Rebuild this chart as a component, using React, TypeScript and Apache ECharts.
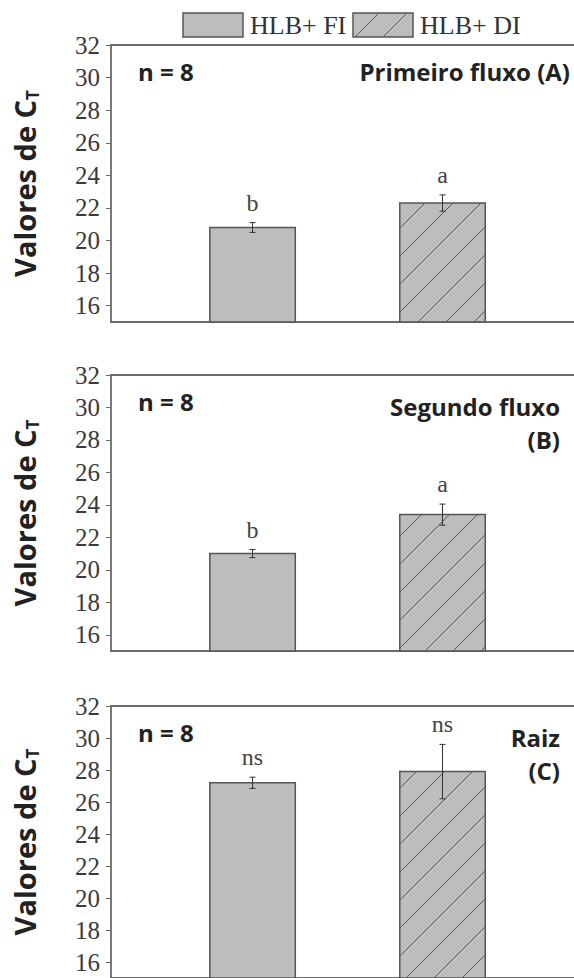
import React, { useEffect, useRef } from "react";
import * as echarts from "echarts";

// ---- data ----
const seriesNames = ["HLB+ FI", "HLB+ DI"];
const xPositions = [1, 2];
const yTicks = [16, 18, 20, 22, 24, 26, 28, 30, 32];
const yMin = 15;
const yMax = 32;
const xMin = 0.255;
const xMax = 2.692;

const meansA = [20.8, 22.3];
const errsA = [0.3, 0.5];
const lettersA = ["b", "a"];

const meansB = [21.0, 23.4];
const errsB = [0.25, 0.65];
const lettersB = ["b", "a"];

const meansC = [27.2, 27.9];
const errsC = [0.35, 1.7];
const lettersC = ["ns", "ns"];

const nLabel = "n = 8";
const titlesA = ["Primeiro fluxo (A)"];
const titlesB = ["Segundo fluxo", "(B)"];
const titlesC = ["Raiz", "(C)"];
const yName = "Valores de C";
const yNameSub = "T";

// ---- styles ----
const GRIDS = [
  { top: 45, height: 277 },
  { top: 375, height: 276 },
  { top: 706, height: 276 },
];
const GRID_LEFT = 111;
const BAR_UNITS = 0.45;
const FILL = "#bdbdbd";
const EDGE = "#555555";
const HATCH = "#5a5a5a";
const HATCH_STEP = 28;
const AXIS = "#6a6a6a";
const SERIF = "'Liberation Serif', 'Times New Roman', serif";
const SANS = "'Open Sans', Lato, sans-serif";

function hatchLines(x0: number, y0: number, x1: number, y1: number, step: number, phase: number) {
  const out: any[] = [];
  const cStart = Math.ceil((x0 + y0 - phase) / step) * step + phase;
  for (let c = cStart; c <= x1 + y1; c += step) {
    const xa = Math.max(x0, c - y1);
    const xb = Math.min(x1, c - y0);
    if (xb - xa > 0.5) {
      out.push({
        type: "line",
        shape: { x1: xa, y1: c - xa, x2: xb, y2: c - xb },
        style: { stroke: HATCH, lineWidth: 1 },
        silent: true,
      });
    }
  }
  return out;
}

function makeRender(letters: string[]) {
  return (params: any, api: any) => {
    const x = api.value(0);
    const m = api.value(1);
    const e = api.value(2);
    const base = api.coord([x, yMin]);
    const top = api.coord([x, m]);
    const half = api.size([BAR_UNITS, 0])[0] / 2;
    const bx0 = base[0] - half;
    const bx1 = base[0] + half;
    const hi = api.coord([x, m + e])[1];
    const lo = api.coord([x, m - e])[1];
    const cx = base[0];
    const children: any[] = [
      {
        type: "rect",
        shape: { x: bx0, y: top[1], width: bx1 - bx0, height: base[1] - top[1] },
        style: { fill: FILL, stroke: EDGE, lineWidth: 1.5 },
      },
    ];
    if (params.dataIndex === 1) {
      children.push(...hatchLines(bx0, top[1], bx1, base[1], HATCH_STEP, 12));
    }
    children.push(
      { type: "line", shape: { x1: cx, y1: hi, x2: cx, y2: lo }, style: { stroke: "#333", lineWidth: 1 } },
      { type: "line", shape: { x1: cx - 3, y1: hi, x2: cx + 3, y2: hi }, style: { stroke: "#333", lineWidth: 1 } },
      { type: "line", shape: { x1: cx - 3, y1: lo, x2: cx + 3, y2: lo }, style: { stroke: "#333", lineWidth: 1 } },
      {
        type: "text",
        style: {
          text: letters[params.dataIndex],
          x: cx,
          y: hi - 20,
          align: "center",
          verticalAlign: "middle",
          fontFamily: SERIF,
          fontSize: 24,
          fill: "#444",
        },
      }
    );
    return { type: "group", children };
  };
}

export default function App() {
  const ref = useRef<HTMLDivElement>(null);
  useEffect(() => {
    if (!ref.current) return;
    const chart = echarts.init(ref.current, null, { renderer: "svg" });
    const panels = [
      { means: meansA, errs: errsA, letters: lettersA, titles: titlesA },
      { means: meansB, errs: errsB, letters: lettersB, titles: titlesB },
      { means: meansC, errs: errsC, letters: lettersC, titles: titlesC },
    ];

    const grid = GRIDS.map((g) => ({
      left: GRID_LEFT,
      right: 0,
      top: g.top,
      height: g.height,
      show: false,
    }));

    const xAxis: any[] = [];
    GRIDS.forEach((_, i) => {
      ["bottom", "top"].forEach((pos) => {
        xAxis.push({
          type: "value",
          gridIndex: i,
          position: pos,
          min: xMin,
          max: xMax,
          axisLine: { show: true, onZero: false, lineStyle: { color: AXIS, width: 1.8 } },
          axisTick: { show: false },
          axisLabel: { show: false },
          splitLine: { show: false },
        });
      });
    });

    const yAxis = GRIDS.map((_, i) => ({
      type: "value",
      gridIndex: i,
      min: yMin,
      max: yMax,
      splitLine: { show: false },
      axisLine: { show: true, lineStyle: { color: AXIS, width: 1.8 } },
      axisTick: { show: true, inside: false, length: 5, customValues: yTicks, lineStyle: { color: AXIS } },
      axisLabel: {
        customValues: yTicks,
        margin: 11,
        fontFamily: SERIF,
        fontSize: 25,
        color: "#3a3a3a",
      },
      name: `{a|${yName}}{b|${yNameSub}}`,
      nameLocation: "middle",
      nameRotate: 90,
      nameGap: 70,
      nameTextStyle: {
        rich: {
          a: { fontFamily: SANS, fontWeight: "bold", fontSize: 29, color: "#222", lineHeight: 34 },
          b: { fontFamily: SANS, fontWeight: "bold", fontSize: 17, color: "#222", lineHeight: 34, verticalAlign: "bottom" },
        },
      },
    }));

    const series = panels.map((p, i) => ({
      type: "custom",
      name: "panel" + i,
      xAxisIndex: i * 2,
      yAxisIndex: i,
      coordinateSystem: "cartesian2d",
      renderItem: makeRender(p.letters),
      encode: { x: 0, y: 1 },
      data: xPositions.map((x, k) => [x, p.means[k], p.errs[k]]),
      silent: true,
      clip: false,
    }));

    const graphic: any[] = [];
    // legend
    const legendBoxes = [
      { x: 183, label: seriesNames[0], hatch: false },
      { x: 353, label: seriesNames[1], hatch: true },
    ];
    legendBoxes.forEach((b) => {
      graphic.push({
        type: "rect",
        shape: { x: b.x, y: 13, width: 60, height: 24 },
        style: { fill: FILL, stroke: EDGE, lineWidth: 1.5 },
      });
      if (b.hatch) graphic.push(...hatchLines(b.x, 13, b.x + 60, 37, HATCH_STEP, 0));
      graphic.push({
        type: "text",
        x: b.x + 67,
        y: 25,
        style: {
          text: b.label,
          fontFamily: SERIF,
          fontSize: 26,
          fill: "#333",
          align: "left",
          verticalAlign: "middle",
        },
      });
    });

    // panel annotations
    const titleRight = [570, 560, 560];
    const firstLineY = [71, 406, 737];
    const nY = [71, 401, 732];
    panels.forEach((p, i) => {
      graphic.push({
        type: "text",
        x: 138,
        y: nY[i],
        style: { text: nLabel, fontFamily: SANS, fontWeight: "bold", fontSize: 24, fill: "#222", align: "left", verticalAlign: "middle" },
      });
      p.titles.forEach((t, k) => {
        graphic.push({
          type: "text",
          x: titleRight[i],
          y: firstLineY[i] + k * 33,
          style: { text: t, fontFamily: SANS, fontWeight: "bold", fontSize: 24, fill: "#222", align: "right", verticalAlign: "middle" },
        });
      });
    });

    chart.setOption({
      animation: false,
      backgroundColor: "#ffffff",
      grid,
      xAxis,
      yAxis,
      series,
      graphic,
    });
    return () => chart.dispose();
  }, []);
  return (
    <div
      ref={ref}
      style={{ position: "absolute", left: 0, top: 0, width: 574, height: 978, background: "#fff" }}
    />
  );
}
